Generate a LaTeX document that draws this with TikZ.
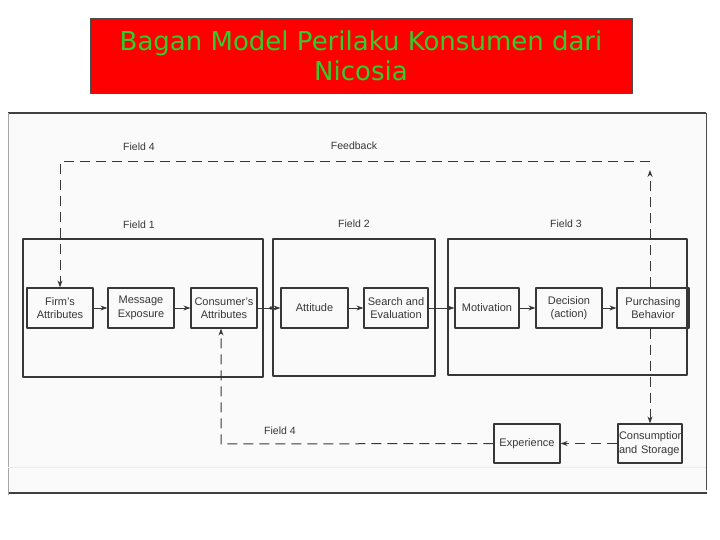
\documentclass[tikz,border=0pt]{standalone}
\usepackage{fontspec}
\setmainfont{Liberation Sans}
\newfontfamily\titlefont{DejaVu Sans}
\usetikzlibrary{arrows.meta}
\definecolor{titlegreen}{RGB}{50,205,40}
\definecolor{ink}{RGB}{55,55,55}
\tikzset{
  fieldbox/.style={draw=ink,line width=1.1pt,inner sep=0pt},
  stagebox/.style={draw=ink,line width=1.2pt,inner sep=1pt,align=center,
    minimum height=40pt,font=\fontsize{11}{13.5}\selectfont,text=ink},
  flow/.style={->,draw=ink,line width=0.9pt},
  loop/.style={->,draw=ink,line width=1pt,dash pattern=on 10pt off 6pt},
  label/.style={font=\fontsize{10.5}{12}\selectfont,text=ink}
}
\begin{document}
\begin{tikzpicture}[x=1pt,y=-1pt,>={Stealth[length=7pt,width=5pt]},line join=round]
  \useasboundingbox (0,0) rectangle (720,540);
  % title
  \node [draw=black!70,fill=red,minimum width=542pt,minimum height=75pt,inner sep=0pt,
    align=center,text=titlegreen,font=\titlefont\fontsize{26}{30}\selectfont] (title) at (361,55.5)
    {Bagan Model Perilaku Konsumen dari\\Nicosia};
  % scanned page
  \fill [gray!4] (8,113) rectangle (706,493);
  \draw [black!75,line width=1.2pt] (8,113)--(706,113);
  \draw [black!75,line width=1.2pt] (8,493)--(707,493);
  \draw [gray!70,line width=0.9pt] (8,113)--(8,495);
  \draw [black!70,line width=1pt] (706,113)--(706,490);
  \draw [gray!15,line width=0.6pt] (8,467)--(706,467);
  % fields
  \node [fieldbox,minimum width=240pt,minimum height=138pt] (field1) at (143,308) {};
  \node [fieldbox,minimum width=162pt,minimum height=137pt] (field2) at (354,307.5) {};
  \node [fieldbox,minimum width=239pt,minimum height=136pt] (field3) at (567.5,307) {};
  \node [label] at (139,147) {Field 4};
  \node [label] at (354,146) {Feedback};
  \node [label] at (139,225) {Field 1};
  \node [label] at (354,224) {Field 2};
  \node [label] at (566,224) {Field 3};
  \node [label] at (280,431) {Field 4};
  % stages
  \node [stagebox,minimum width=66pt] (firm) at (60,308) {Firm's\\Attributes};
  \node [stagebox,minimum width=66pt] (msg) at (141,308) {Message\\Exposure};
  \node [stagebox,minimum width=66pt] (conattr) at (224,308) {Consumer's\\Attributes};
  \node [stagebox,minimum width=67pt] (att) at (314.5,308) {Attitude};
  \node [stagebox,minimum width=64pt] (search) at (396,308) {Search and\\Evaluation};
  \node [stagebox,minimum width=64pt] (motiv) at (487,308) {Motivation};
  \node [stagebox,minimum width=66pt] (decis) at (569,308) {Decision\\(action)};
  \node [stagebox,minimum width=72pt] (purch) at (653,308) {Purchasing\\Behavior};
  \node [stagebox,minimum width=66pt,minimum height=39pt] (exp) at (527,443.5) {Experience};
  \node [stagebox,text width=62pt,align=left,minimum height=39pt,inner sep=1pt] (cons) at (650,443.5)
    {Consumption\\and Storage};
  % main flow
  \draw [flow] (firm) -- (msg);
  \draw [flow] (msg) -- (conattr);
  \draw [flow] (conattr) -- (att);
  \fill [ink] (271,308) circle (1.8pt);
  \draw [flow] (att) -- (search);
  \draw [flow] (search) -- (motiv);
  \draw [flow] (motiv) -- (decis);
  \draw [flow] (decis) -- (purch);
  % feedback loops
  \coordinate (fbR) at (650,162);
  \coordinate (fbL) at (60,162);
  \coordinate (fbB) at (221,444);
  \draw [loop] (cons.north |- purch.north) -- (650,170);
  \draw [loop] (fbR) -- (fbL) -- (firm.north);
  \draw [loop] (cons.north |- purch.south) -- (cons.north);
  \draw [loop] (cons.west) -- (exp.east);
  \draw [loop] (exp.west) -- (fbB) -- (fbB |- conattr.south);
\end{tikzpicture}
\end{document}
